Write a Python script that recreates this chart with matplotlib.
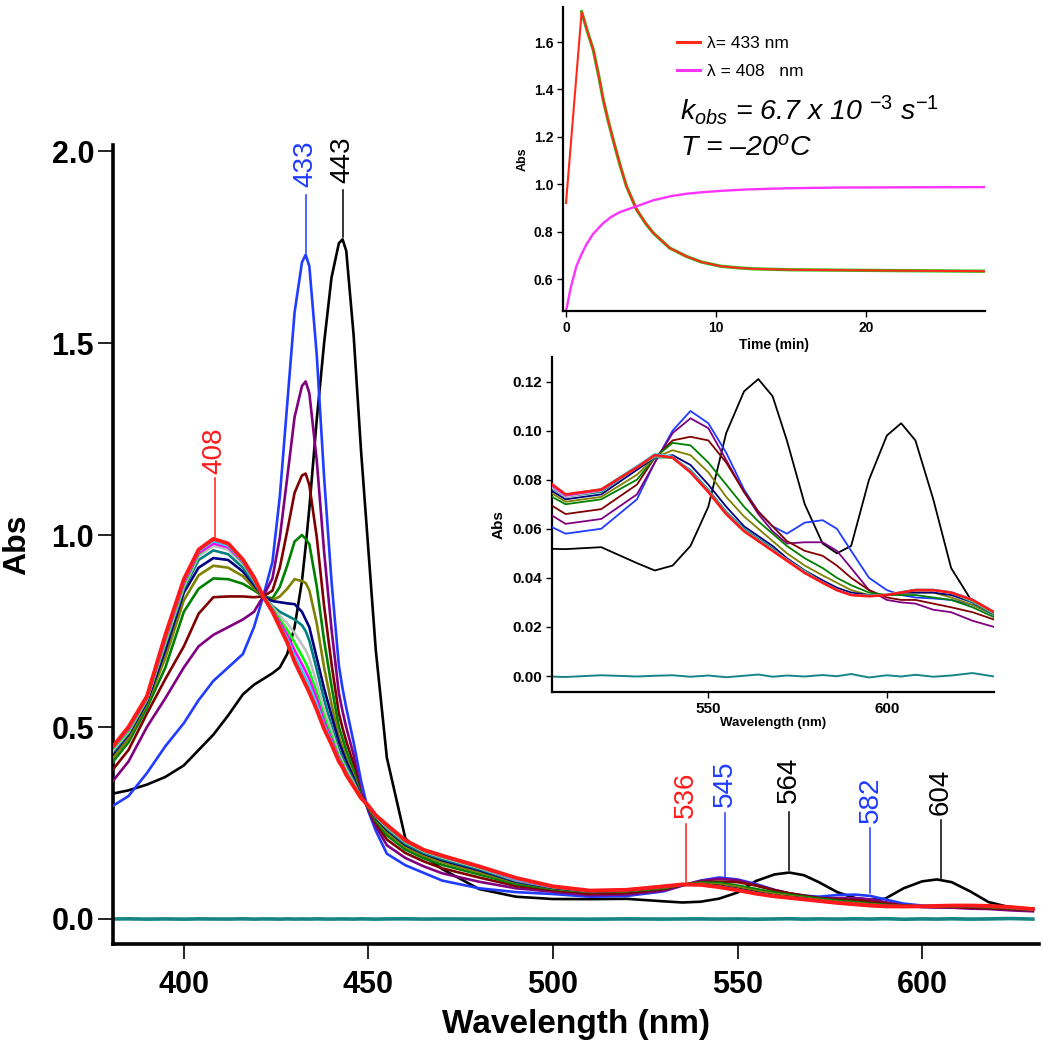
import matplotlib
matplotlib.use('Agg')
import matplotlib.pyplot as plt
from matplotlib.lines import Line2D

plt.rcParams['font.family'] = ['Liberation Sans', 'DejaVu Sans']
plt.rcParams['mathtext.fontset'] = 'custom'
plt.rcParams['mathtext.rm'] = 'Liberation Sans'
plt.rcParams['mathtext.it'] = 'Liberation Sans:italic'
plt.rcParams['mathtext.bf'] = 'Liberation Sans:bold'

# ---------------- data: UV-vis spectra ----------------
wl = [380, 385, 390, 395, 400, 404, 408, 412, 416, 419,
      421.5, 424, 426, 428, 430, 432, 433, 434, 436, 438,
      440, 442, 443, 444, 446, 448, 450, 452, 455, 460,
      465, 470, 480, 490, 500,
      510, 520, 530, 535, 540, 545, 550, 555, 560, 564,
      568, 572, 577, 582, 586, 590, 595, 600, 604, 608,
      613, 618, 624, 630]

abs_black = [0.325, 0.335, 0.35, 0.37, 0.40, 0.44, 0.48, 0.53, 0.585, 0.61,
             0.625, 0.64, 0.655, 0.69, 0.76, 0.88, 0.97, 1.07, 1.30, 1.50,
             1.67, 1.76, 1.77, 1.74, 1.52, 1.22, 0.96, 0.70, 0.42, 0.21,
             0.165, 0.13, 0.078, 0.058, 0.052,
             0.0517, 0.0525, 0.046, 0.043, 0.045, 0.053, 0.069, 0.099, 0.116, 0.121,
             0.114, 0.096, 0.070, 0.054, 0.050, 0.053, 0.080, 0.098, 0.103, 0.096,
             0.072, 0.044, 0.030, 0.026]

abs_blue = [0.29, 0.32, 0.38, 0.45, 0.51, 0.57, 0.62, 0.655, 0.69, 0.76,
            0.84, 0.93, 1.10, 1.34, 1.58, 1.71, 1.73, 1.70, 1.47, 1.15,
            0.88, 0.66, 0.60, 0.55, 0.46, 0.36, 0.28, 0.23, 0.17, 0.14,
            0.12, 0.10, 0.08, 0.07, 0.065,
            0.058, 0.060, 0.072, 0.087, 0.10, 0.108, 0.103, 0.091, 0.076, 0.067,
            0.061, 0.058, 0.0625, 0.0635, 0.060, 0.051, 0.040, 0.035, 0.033, 0.032,
            0.0316, 0.031, 0.029, 0.025]

abs_purple = [0.35, 0.41, 0.50, 0.575, 0.655, 0.71, 0.74, 0.76, 0.78, 0.80,
              0.84, 0.887, 0.993, 1.149, 1.307, 1.388, 1.40, 1.369, 1.195, 0.956,
              0.755, 0.588, 0.541, 0.499, 0.427, 0.33, 0.284, 0.242, 0.192, 0.159,
              0.137, 0.119, 0.097, 0.080, 0.071,
              0.062, 0.064, 0.074, 0.087, 0.099, 0.105, 0.101, 0.088, 0.075, 0.066,
              0.059, 0.054, 0.0545, 0.0545, 0.051, 0.044, 0.035, 0.031, 0.030, 0.0295,
              0.027, 0.026, 0.0225, 0.020]

abs_maroon = [0.38, 0.44, 0.535, 0.625, 0.71, 0.795, 0.838, 0.84, 0.84, 0.838,
              0.84, 0.855, 0.915, 1.01, 1.11, 1.155, 1.16, 1.13, 0.995, 0.815,
              0.665, 0.535, 0.497, 0.463, 0.403, 0.323, 0.287, 0.25, 0.207, 0.172,
              0.15, 0.132, 0.108, 0.086, 0.075,
              0.066, 0.068, 0.078, 0.089, 0.096, 0.0975, 0.096, 0.087, 0.075, 0.067,
              0.061, 0.055, 0.051, 0.049, 0.045, 0.040, 0.035, 0.032, 0.031, 0.031,
              0.0295, 0.028, 0.026, 0.023]

abs_green = [0.40, 0.46, 0.55, 0.655, 0.80, 0.86, 0.887, 0.885, 0.873, 0.856,
             0.84, 0.835, 0.865, 0.92, 0.983, 1.00, 0.99, 0.976, 0.867, 0.725,
             0.607, 0.50, 0.47, 0.439, 0.387, 0.32, 0.29, 0.255, 0.218, 0.181,
             0.158, 0.141, 0.116, 0.091, 0.078,
             0.070, 0.072, 0.080, 0.089, 0.095, 0.094, 0.087, 0.078, 0.069, 0.063,
             0.058, 0.053, 0.048, 0.044, 0.040, 0.037, 0.034, 0.033, 0.033, 0.033,
             0.032, 0.031, 0.028, 0.024]

abs_olive = [0.41, 0.47, 0.56, 0.68, 0.83, 0.895, 0.92, 0.915, 0.893, 0.862,
             0.84, 0.83, 0.84, 0.86, 0.885, 0.88, 0.875, 0.856, 0.77, 0.655,
             0.56, 0.475, 0.448, 0.42, 0.375, 0.318, 0.291, 0.26, 0.226, 0.188,
             0.165, 0.148, 0.122, 0.095, 0.080,
             0.071, 0.073, 0.082, 0.089, 0.092, 0.090, 0.083, 0.073, 0.065, 0.060,
             0.055, 0.050, 0.045, 0.041, 0.038, 0.035, 0.033, 0.033, 0.034, 0.034,
             0.034, 0.032, 0.029, 0.025]

abs_navy = [0.42, 0.48, 0.565, 0.70, 0.85, 0.915, 0.94, 0.935, 0.905, 0.87,
            0.84, 0.828, 0.825, 0.822, 0.82, 0.80, 0.78, 0.76, 0.68, 0.60,
            0.53, 0.46, 0.436, 0.41, 0.368, 0.317, 0.292, 0.263, 0.232, 0.193,
            0.17, 0.153, 0.127, 0.097, 0.081,
            0.072, 0.074, 0.084, 0.089, 0.090, 0.086, 0.078, 0.069, 0.061, 0.057,
            0.053, 0.048, 0.043, 0.039, 0.036, 0.034, 0.033, 0.033, 0.034, 0.034,
            0.034, 0.033, 0.030, 0.025]

abs_teal = [0.425, 0.484, 0.57, 0.715, 0.86, 0.935, 0.96, 0.95, 0.915, 0.876,
            0.84, 0.815, 0.80, 0.79, 0.78, 0.765, 0.75, 0.725, 0.65, 0.572,
            0.503, 0.44, 0.42, 0.398, 0.36, 0.316, 0.293, 0.265, 0.235, 0.196,
            0.172, 0.156, 0.13, 0.099, 0.082,
            0.073, 0.075, 0.085, 0.089, 0.089, 0.084, 0.076, 0.067, 0.060, 0.056,
            0.052, 0.047, 0.043, 0.038, 0.035, 0.033, 0.033, 0.033, 0.034, 0.035,
            0.035, 0.034, 0.030, 0.025]

abs_grey = [0.43, 0.487, 0.572, 0.72, 0.865, 0.945, 0.972, 0.962, 0.925, 0.882,
            0.84, 0.812, 0.79, 0.77, 0.745, 0.715, 0.70, 0.678, 0.615, 0.545,
            0.49, 0.43, 0.41, 0.39, 0.354, 0.316, 0.294, 0.267, 0.239, 0.20,
            0.176, 0.16, 0.133, 0.101, 0.083,
            0.073, 0.0755, 0.085, 0.0895, 0.089, 0.0835, 0.0755, 0.0665, 0.0595, 0.0555,
            0.0515, 0.0475, 0.0425, 0.0382, 0.0352, 0.0332, 0.0327, 0.0332, 0.0342, 0.0352,
            0.035, 0.034, 0.0305, 0.0255]

abs_lime = [0.435, 0.49, 0.574, 0.725, 0.87, 0.95, 0.98, 0.968, 0.928, 0.884,
            0.84, 0.808, 0.78, 0.753, 0.72, 0.685, 0.667, 0.645, 0.59, 0.527,
            0.477, 0.422, 0.405, 0.384, 0.35, 0.315, 0.294, 0.268, 0.241, 0.202,
            0.178, 0.162, 0.135, 0.102, 0.084,
            0.074, 0.076, 0.0855, 0.0898, 0.0888, 0.0832, 0.0752, 0.0662, 0.0592, 0.0552,
            0.0512, 0.0472, 0.0422, 0.0381, 0.0351, 0.0331, 0.0326, 0.0331, 0.0341, 0.0351,
            0.0351, 0.0341, 0.0308, 0.0258]

abs_magenta = [0.437, 0.494, 0.576, 0.73, 0.875, 0.953, 0.978, 0.968, 0.93, 0.885,
               0.84, 0.805, 0.772, 0.74, 0.70, 0.664, 0.645, 0.625, 0.575, 0.515,
               0.468, 0.418, 0.401, 0.38, 0.348, 0.315, 0.294, 0.269, 0.243, 0.203,
               0.179, 0.163, 0.136, 0.102, 0.084,
               0.0735, 0.0758, 0.0852, 0.0902, 0.0892, 0.0831, 0.0751, 0.0661, 0.0591, 0.0551,
               0.0511, 0.0471, 0.0421, 0.0381, 0.0351, 0.0331, 0.0326, 0.0331, 0.0341, 0.0351,
               0.0351, 0.0341, 0.0311, 0.0261]

abs_cyan = [0.438, 0.497, 0.578, 0.735, 0.88, 0.958, 0.984, 0.972, 0.932, 0.887,
            0.84, 0.802, 0.765, 0.73, 0.685, 0.647, 0.628, 0.608, 0.56, 0.505,
            0.462, 0.414, 0.398, 0.378, 0.346, 0.315, 0.295, 0.27, 0.244, 0.204,
            0.18, 0.164, 0.136, 0.103, 0.085,
            0.0738, 0.0762, 0.0855, 0.0905, 0.0895, 0.0835, 0.0752, 0.0662, 0.0592, 0.0552,
            0.0512, 0.0472, 0.0422, 0.0382, 0.0352, 0.0332, 0.0327, 0.0332, 0.0342, 0.0352,
            0.0352, 0.0342, 0.0312, 0.0262]

abs_red = [0.44, 0.50, 0.58, 0.74, 0.885, 0.962, 0.99, 0.978, 0.936, 0.89,
           0.84, 0.80, 0.76, 0.72, 0.67, 0.63, 0.61, 0.59, 0.545, 0.495,
           0.455, 0.41, 0.395, 0.375, 0.345, 0.315, 0.295, 0.27, 0.245, 0.205,
           0.18, 0.165, 0.137, 0.107, 0.085,
           0.074, 0.076, 0.085, 0.090, 0.089, 0.083, 0.075, 0.066, 0.059, 0.055,
           0.051, 0.047, 0.042, 0.038, 0.035, 0.033, 0.0325, 0.033, 0.034, 0.035,
           0.035, 0.034, 0.031, 0.026]

abs_base = [0.0, 0.0004, -0.0003, 0.0002, -0.0004, 0.0003, 0.0, -0.0002, 0.0004, -0.0003,
            0.0002, 0.0, -0.0003, 0.0003, -0.0002, 0.0001, 0.0, -0.0002, 0.0003, 0.0,
            -0.0003, 0.0002, 0.0, 0.0001, -0.0002, 0.0003, 0.0, -0.0003, 0.0002, 0.0004,
            -0.0002, 0.0001, -0.0003, 0.0002, 0.0,
            -0.0004, 0.0003, -0.0002, 0.0001, 0.0003, -0.0003, 0.0002, -0.0005, 0.0001, 0.0006,
            -0.0003, 0.0002, -0.0002, 0.0004, -0.0001, 0.0008, -0.0006, 0.0003, -0.0002, 0.0005,
            -0.0003, 0.0002, 0.0012, -0.0002]

# ---------------- data: kinetics ----------------
t433 = [0.0, 1.04, 1.4, 1.82, 2.2, 2.48, 2.8, 3.14, 3.6, 4.03, 4.7, 5.3, 5.8,
        6.9, 8.0, 9.0, 10.3, 11.5, 12.5, 15.0, 19.1, 23.0, 27.85]
a433 = [0.921, 1.728, 1.65, 1.566, 1.45, 1.356, 1.27, 1.187, 1.08, 0.991, 0.893,
        0.835, 0.795, 0.731, 0.696, 0.672, 0.654, 0.647, 0.643, 0.639, 0.637, 0.635, 0.633]
t408 = [0.02, 0.3, 0.69, 1.0, 1.35, 1.8, 2.46, 3.0, 3.57, 4.6, 5.8, 7.0, 8.04,
        9.0, 10.3, 12.0, 14.7, 18.0, 22.0, 27.85]
a408 = [0.470, 0.56, 0.654, 0.70, 0.745, 0.79, 0.835, 0.862, 0.882, 0.905, 0.932,
        0.950, 0.960, 0.966, 0.972, 0.978, 0.983, 0.986, 0.987, 0.988]

# ---------------- peak labels ----------------
peak_pos = [408.4, 433.0, 443.0, 536.0, 546.5, 564.0, 586.0, 605.0]
peak_text = ['408', '433', '443', '536', '545', '564', '582', '604']
line_lo = [0.995, 1.735, 1.775, 0.096, 0.109, 0.128, 0.068, 0.107]
line_hi = [1.148, 1.885, 1.898, 0.247, 0.276, 0.279, 0.237, 0.258]
text_y = [1.16, 1.906, 1.917, 0.263, 0.292, 0.302, 0.250, 0.271]

BLUE = '#1f3cff'
RED = '#ff1a1a'
peak_color = [RED, BLUE, 'black', RED, BLUE, 'black', BLUE, 'black']

series = [
    (abs_black, 'black'),
    (abs_blue, BLUE),
    (abs_purple, '#800080'),
    (abs_maroon, '#800000'),
    (abs_green, '#008000'),
    (abs_olive, '#808000'),
    (abs_navy, '#000080'),
    (abs_teal, '#008080'),
    (abs_grey, '#c0c0c0'),
    (abs_lime, '#00ff00'),
    (abs_magenta, '#ff00ff'),
    (abs_cyan, '#33ccff'),
    (abs_red, RED),
]
BASE = '#178585'

fig = plt.figure(figsize=(10.43, 10.5), dpi=100)

# ---------------- main axes ----------------
ax = fig.add_axes([0.1083, 0.101, 0.888, 0.761])
ax.plot(wl, abs_base, color=BASE, lw=2.6, zorder=2)
for i, (y, c) in enumerate(series):
    lw = 2.8 if c == RED else 1.9
    ax.plot(wl, y, color=c, lw=lw, zorder=3 + i, solid_joinstyle='round')

for p, t, lo, hi, ty, c in zip(peak_pos, peak_text, line_lo, line_hi, text_y, peak_color):
    ax.plot([p, p], [lo, hi], color=c, lw=1.1, zorder=20)
    ax.text(p, ty, t, rotation=90, ha='center', va='bottom', fontsize=20,
            color=c, zorder=20)

ax.set_xlim(380.8, 631.7)
ax.set_ylim(-0.065, 2.016)
for s in ['top', 'right']:
    ax.spines[s].set_visible(False)
for s in ['left', 'bottom']:
    ax.spines[s].set_linewidth(2.6)
ax.set_xticks([400, 450, 500, 550, 600], labels=['400', '450', '500', '550', '600'],
              fontsize=22, fontweight='bold')
ax.set_yticks([0.0, 0.5, 1.0, 1.5, 2.0], labels=['0.0', '0.5', '1.0', '1.5', '2.0'],
              fontsize=22, fontweight='bold')
ax.tick_params(direction='out', length=11, width=1.2)
ax.tick_params(axis='x', pad=7.5)
ax.tick_params(axis='y', pad=2.5)
ax.set_xlabel('Wavelength (nm)', fontsize=24, fontweight='bold', labelpad=7)
ax.set_ylabel('Abs', fontsize=23, fontweight='bold', labelpad=14)

# ---------------- inset 1: kinetics ----------------
ax1 = fig.add_axes([0.5398, 0.7038, 0.4046, 0.2895], facecolor='white')
ax1.plot(t433[1:], a433[1:], color='#22cc22', lw=2.4)
ax1.plot(t433, a433, color='#ff2a1a', lw=1.5)
ax1.plot(t408, a408, color='#ff33ff', lw=1.7)
ax1.set_xlim(-0.2, 27.9)
ax1.set_ylim(0.465, 1.748)
for s in ['top', 'right']:
    ax1.spines[s].set_visible(False)
for s in ['left', 'bottom']:
    ax1.spines[s].set_linewidth(1.6)
ax1.set_xticks([0, 10, 20], labels=['0', '10', '20'], fontsize=10, fontweight='bold')
ax1.set_yticks([0.6, 0.8, 1.0, 1.2, 1.4, 1.6],
               labels=['0.6', '0.8', '1.0', '1.2', '1.4', '1.6'], fontsize=10, fontweight='bold')
ax1.tick_params(direction='out', length=4, width=1, pad=3)
ax1.set_xlabel('Time (min)', fontsize=10, fontweight='bold', labelpad=2)
ax1.set_ylabel('Abs', fontsize=9, fontweight='bold', labelpad=4)
h1 = Line2D([], [], color='#ff2a1a', lw=2.2)
h2 = Line2D([], [], color='#ff33ff', lw=2.2)
ax1.legend([h1, h2], ['\u03bb= 433 nm', '\u03bb = 408   nm'], loc='upper left',
           bbox_to_anchor=(0.27, 0.905), frameon=False, fontsize=12.5,
           handlelength=1.3, handletextpad=0.45, labelspacing=0.75,
           borderpad=0, borderaxespad=0)
ax1.text(0.277, 0.628, r'$k_{obs}$ = 6.7 x 10 $^{\mathit{-3}}$ s$^{\mathit{-1}}$',
         transform=ax1.transAxes, fontsize=20.5, style='italic', va='baseline')
ax1.text(0.277, 0.513, 'T = \u201320' + r'$^{\mathit{o}}$' + 'C',
         transform=ax1.transAxes, fontsize=20.5, style='italic', va='baseline')

# ---------------- inset 2: Q-band region ----------------
ax2 = fig.add_axes([0.5292, 0.341, 0.4238, 0.319], facecolor='white')
ax2.plot(wl, abs_base, color=BASE, lw=1.4, zorder=2)
for i, (y, c) in enumerate(series):
    lw = 1.9 if c == RED else 1.3
    ax2.plot(wl, y, color=c, lw=lw, zorder=3 + i)
ax2.set_xlim(506.2, 630)
ax2.set_ylim(-0.0065, 0.130)
for s in ['top', 'right']:
    ax2.spines[s].set_visible(False)
for s in ['left', 'bottom']:
    ax2.spines[s].set_linewidth(1.6)
ax2.set_xticks([550, 600], labels=['550', '600'], fontsize=11, fontweight='bold')
ax2.set_yticks([0.0, 0.02, 0.04, 0.06, 0.08, 0.10, 0.12],
               labels=['0.00', '0.02', '0.04', '0.06', '0.08', '0.10', '0.12'],
               fontsize=11, fontweight='bold')
ax2.tick_params(direction='out', length=4, width=1, pad=3)
ax2.set_xlabel('Wavelength (nm)', fontsize=9.5, fontweight='bold', labelpad=1)
ax2.set_ylabel('Abs', fontsize=11, fontweight='bold', labelpad=5)

fig.savefig('out.png', dpi=100)
